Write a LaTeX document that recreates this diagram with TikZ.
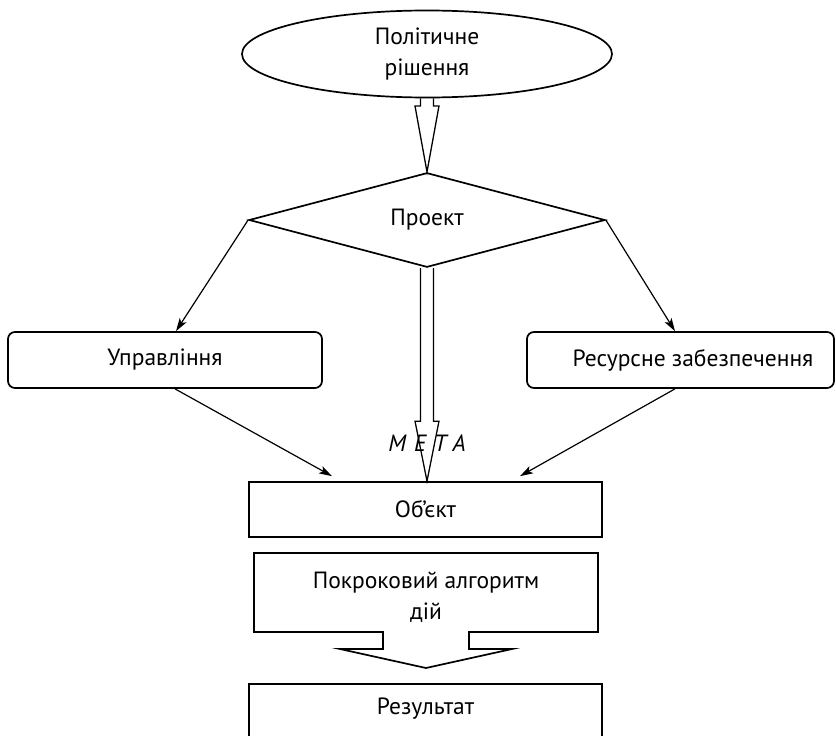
\documentclass[tikz,border=0pt]{standalone}
\usepackage{fontspec}
\setmainfont{PT Sans}
\usepackage{tikz}
\usetikzlibrary{calc,shapes.geometric,arrows.meta}
\def\hollowarrow[#1](#2)(#3)(#4){\draw[#1] ($(#2)+(-6.5,0)$) -- ($(#3)+(-6.5,-#4)$) -- ($(#3)+(-12,-#4)$) -- (#3) -- ($(#3)+(12,-#4)$) -- ($(#3)+(6.5,-#4)$) -- ($(#2)+(6.5,0)$);}

\tikzset{
	every node/.style={font=\fontsize{23.5}{31.5}\selectfont, text=black},
	border/.style={draw, line width=1.7pt},
	box/.style={border, rectangle, inner sep=0pt},
	roundbox/.style={box, rounded corners=7pt},
	thinarrow/.style={line width=1.2pt, -{Stealth[length=13pt, width=8pt, inset=3pt]}},
	hollow/.style={line width=1.3pt, line join=miter}
}

\begin{document}
\begin{tikzpicture}[x=1pt, y=-1pt]
			%%%%% START %%%%%
			\useasboundingbox (0, 0) rectangle (836, 736);
			\clip (0, 0) rectangle (836, 736);
			
			\node[border, ellipse, minimum width=370pt, minimum height=87pt, inner sep=0pt, align=center] (rishennia) at (427, 54) {Політичне\\рішення};
			\node[border, diamond, minimum width=356pt, minimum height=94pt, inner sep=0pt] (proekt) at (427, 220) {Проект};
			
			\node[roundbox, minimum width=314pt, minimum height=56pt] (upravl) at (165, 360) {Управління};
			\node[roundbox, minimum width=307pt, minimum height=56pt] (resurs) at (680.5, 360) {\hspace{25pt}Ресурсне забезпечення};
			
			\node[box, minimum width=353pt, minimum height=55pt] (obiekt) at (425.5, 509.5) {Об’єкт};
			
			\node[align=center] (algoritm) at (426, 597) {Покроковий алгоритм\\дій};
			\draw[border, line join=miter] (254, 632) -- (254, 553) -- (598, 553) -- (598, 632) -- (469, 632) -- (469, 649) -- (512, 649) -- (426, 668) -- (340, 649) -- (383, 649) -- (383, 632) -- cycle;
			
			\node[box, minimum width=353pt, minimum height=100pt, anchor=north] (rezultat) at (425.5, 683) {};
			\node at ([yshift=-26pt]rezultat.north) {Результат};
			
			% hollow arrows
			\hollowarrow[hollow](rishennia.south)(proekt.north)(66);
			\hollowarrow[hollow](proekt.south)(proekt.south |- obiekt.north)(60);
			\node[font=\fontsize{23.5}{30}\selectfont\itshape] (meta) at (427, 443) {М\hspace{8pt}Е\hspace{8pt}Т\hspace{6pt}А};
			
			% thin arrows
			\draw[thinarrow] (proekt.west) -- ([xshift=11pt]upravl.north);
			\draw[thinarrow] (proekt.east) -- ([xshift=-5.5pt]resurs.north);
			\draw[thinarrow] ([xshift=10pt]upravl.south) -- ($(obiekt.north)+(-93.5,-5)$);
			\draw[thinarrow] ([xshift=-5.5pt]resurs.south) -- ($(obiekt.north)+(94.5,-5)$);
			
			%%%%% END %%%%%
\end{tikzpicture}
\end{document}
